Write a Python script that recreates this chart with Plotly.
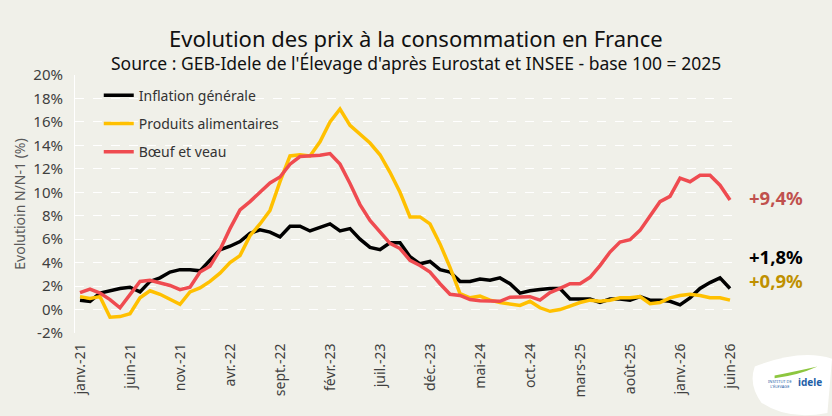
import plotly.graph_objects as go

# ---------------- data ----------------
months = [
    "janv.-21","févr.-21","mars-21","avr.-21","mai-21","juin-21","juil.-21","août-21","sept.-21","oct.-21","nov.-21","déc.-21",
    "janv.-22","févr.-22","mars-22","avr.-22","mai-22","juin-22","juil.-22","août-22","sept.-22","oct.-22","nov.-22","déc.-22",
    "janv.-23","févr.-23","mars-23","avr.-23","mai-23","juin-23","juil.-23","août-23","sept.-23","oct.-23","nov.-23","déc.-23",
    "janv.-24","févr.-24","mars-24","avr.-24","mai-24","juin-24","juil.-24","août-24","sept.-24","oct.-24","nov.-24","déc.-24",
    "janv.-25","févr.-25","mars-25","avr.-25","mai-25","juin-25","juil.-25","août-25","sept.-25","oct.-25","nov.-25","déc.-25",
    "janv.-26","févr.-26","mars-26","avr.-26","mai-26","juin-26",
]

inflation = [
    0.8, 0.7, 1.4, 1.6, 1.8, 1.9, 1.5, 2.4, 2.7, 3.2, 3.4, 3.4,
    3.3, 4.2, 5.1, 5.4, 5.8, 6.5, 6.8, 6.6, 6.2, 7.1, 7.1, 6.7,
    7.0, 7.3, 6.7, 6.9, 6.0, 5.3, 5.1, 5.7, 5.7, 4.5, 3.9, 4.1,
    3.4, 3.2, 2.4, 2.4, 2.6, 2.5, 2.7, 2.2, 1.4, 1.6, 1.7, 1.8,
    1.8, 0.9, 0.9, 0.9, 0.6, 0.9, 0.9, 0.8, 1.1, 0.8, 0.8, 0.7,
    0.4, 1.0, 1.8, 2.3, 2.7, 1.8,
]

alimentaires = [
    1.1, 0.95, 1.1, -0.65, -0.6, -0.35, 1.0, 1.6, 1.3, 0.85, 0.45, 1.5,
    1.85, 2.4, 3.1, 4.0, 4.6, 6.3, 7.3, 8.45, 10.9, 13.1, 13.2, 13.1,
    14.3, 16.0, 17.1, 15.7, 14.9, 14.2, 13.2, 11.7, 10.0, 7.9, 7.9, 7.3,
    5.6, 3.6, 1.35, 1.0, 1.15, 0.8, 0.6, 0.45, 0.35, 0.7, 0.15, -0.15,
    0.0, 0.3, 0.6, 0.8, 0.7, 0.8, 1.0, 1.0, 1.1, 0.5, 0.6, 1.0,
    1.2, 1.3, 1.2, 1.0, 1.0, 0.8,
]

boeuf_veau = [
    1.45, 1.75, 1.4, 0.85, 0.15, 1.3, 2.4, 2.5, 2.3, 2.05, 1.7, 1.9,
    3.2, 3.7, 5.1, 6.9, 8.5, 9.2, 10.0, 10.8, 11.3, 12.4, 13.05, 13.1,
    13.15, 13.3, 12.4, 10.75, 8.95, 7.6, 6.6, 5.65, 5.2, 4.2, 3.75, 3.2,
    2.2, 1.3, 1.2, 0.85, 0.75, 0.7, 0.7, 1.05, 1.05, 1.1, 0.8, 1.45,
    1.8, 2.2, 2.2, 2.75, 3.75, 4.9, 5.75, 5.95, 6.75, 8.0, 9.2, 9.65,
    11.2, 10.9, 11.45, 11.45, 10.6, 9.35,
]

series_names = ["Inflation générale", "Produits alimentaires", "Bœuf et veau"]
end_labels = ["+1,8%", "+0,9%", "+9,4%"]
y_ticks = list(range(-2, 21, 2))
tick_step = 5

# ---------------- styles ----------------
BG = "#F0F0E9"
colors = ["#000000", "#FFC000", "#EF4B50"]
label_colors = ["#000000", "#BF9000", "#C0504D"]
FONT = "Noto Sans"

x_idx = list(range(len(months)))

fig = go.Figure()
for i, (name, vals) in enumerate(zip(series_names, [inflation, alimentaires, boeuf_veau])):
    fig.add_trace(go.Scatter(
        x=x_idx, y=vals, mode="lines", name=name,
        line=dict(color=colors[i], width=3.5),
        legendgroup=f"g{i}",
        hovertext=months, hoverinfo="text+y",
    ))

tickvals = x_idx[::tick_step]
ticktext = [months[i] for i in tickvals]

fig.update_layout(
    width=832, height=416,
    margin=dict(l=75, r=97, t=75, b=83),
    paper_bgcolor=BG, plot_bgcolor=BG,
    font=dict(family=FONT, color="#404040", size=13),
    showlegend=True,
    legend=dict(
        x=0.036, y=0.982, xanchor="left", yanchor="top",
        bgcolor="rgba(0,0,0,0)", font=dict(size=14, color="#333333"),
        tracegroupgap=7, itemwidth=30,
    ),
    annotations=[
        dict(text="Evolution des prix à la consommation en France", xref="paper", yref="paper",
             x=0.517, y=1.0, yshift=37, xanchor="center", yanchor="middle", showarrow=False,
             font=dict(size=22, color="#111111", family=FONT)),
        dict(text="Source : GEB-Idele de l'Élevage d'après Eurostat et INSEE - base 100 = 2025",
             xref="paper", yref="paper", x=0.517, y=1.0, yshift=12, xanchor="center",
             yanchor="middle", showarrow=False,
             font=dict(size=17.5, color="#111111", family=FONT)),
    ],
)

# end labels (placed to the right of the plot area)
label_y = [4.55, 2.5, 9.55]
for i in range(3):
    fig.add_annotation(
        x=1.062, y=label_y[i], xref="paper", yref="y", text=f"<b>{end_labels[i]}</b>",
        showarrow=False, xanchor="center", yanchor="middle",
        font=dict(size=18.5, color=label_colors[i], family=FONT),
    )

fig.update_xaxes(
    range=[-0.5, len(months) - 0.5],
    tickvals=tickvals, ticktext=ticktext, tickangle=-90,
    tickfont=dict(size=14, color="#404040"),
    showgrid=False, zeroline=False, showline=False,
    ticks="outside", ticklen=4, tickcolor=BG,
)
fig.update_yaxes(
    range=[-2, 20], tickvals=y_ticks, ticktext=[f"{v}%" for v in y_ticks],
    tickfont=dict(size=15, color="#404040"),
    showgrid=True, gridcolor="#FFFFFF", griddash="dash", gridwidth=1,
    zeroline=False, showline=True, linecolor="#FFFFFF", linewidth=1,
    ticks="outside", ticklen=8, tickcolor=BG,
    title=dict(text="Evolutioin N/N-1 (%)", font=dict(size=14, color="#595959"), standoff=4),
)

# logo placeholder (idele)
fig.add_shape(type="path", xref="paper", yref="paper",
              path="M 1.03 -0.13 Q 1.10 -0.06 1.147 -0.10 L 1.14 -0.31 Q 1.08 -0.34 1.04 -0.27 Q 1.02 -0.2 1.03 -0.13 Z",
              fillcolor="#FFFFFF", line=dict(width=0), layer="below")
fig.add_shape(type="path", xref="paper", yref="paper",
              path="M 1.06 -0.165 Q 1.09 -0.15 1.125 -0.13 Q 1.095 -0.165 1.06 -0.175 Z",
              fillcolor="#8DC63F", line=dict(width=0))
fig.add_annotation(x=1.092, y=-0.225, xref="paper", yref="paper", text="<b>idele</b>",
                   showarrow=False, xanchor="left", font=dict(size=10, color="#1F5FA8", family=FONT))
fig.add_annotation(x=1.089, y=-0.225, xref="paper", yref="paper",
                   text="INSTITUT DE<br>L'ÉLEVAGE", xanchor="right",
                   showarrow=False, font=dict(size=4, color="#1F5FA8", family=FONT))

fig.write_html("out.html")
